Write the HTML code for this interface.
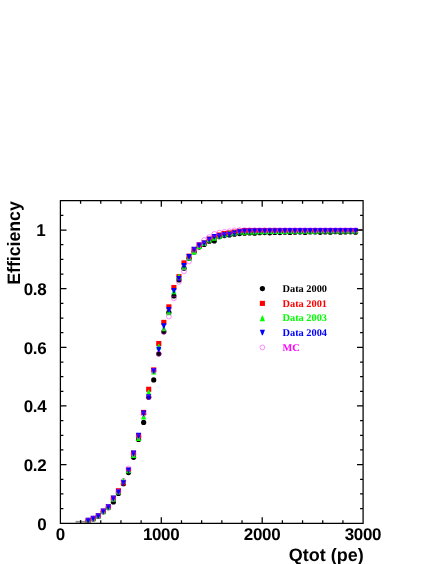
<!DOCTYPE html>
<html><head><meta charset="utf-8"><title>Efficiency vs Qtot</title>
<style>
html,body{margin:0;padding:0;background:#fff}
body{width:436px;height:564px;position:relative;overflow:hidden}
svg{display:block;will-change:transform}
text{text-rendering:geometricPrecision;font-variant-ligatures:none;font-weight:bold}
.tk{font-family:"Liberation Sans",sans-serif;font-size:17px;letter-spacing:-0.35px}
.ti{font-family:"Liberation Sans",sans-serif;font-size:18px}
.lg{font-family:"Liberation Serif",serif;font-size:10.35px}
</style></head><body>
<svg width="436" height="564" viewBox="0 0 436 564" style="position:absolute;left:0;top:0">
<path d="M75.6 521.35H86 M75.6 522.15H86" stroke="#000" stroke-width="0.4" fill="none"/><path d="M80.7 520.2V522.7" stroke="#000" stroke-width="0.7" fill="none"/>
<g fill="#000"><circle cx="88.15" cy="520.51" r="2.6"/><circle cx="93.19" cy="518.9" r="2.6"/><circle cx="98.24" cy="516.26" r="2.6"/><circle cx="103.28" cy="511.86" r="2.6"/><circle cx="108.33" cy="507.76" r="2.6"/><circle cx="113.37" cy="501.89" r="2.6"/><circle cx="118.42" cy="493.39" r="2.6"/><circle cx="123.46" cy="483.71" r="2.6"/><circle cx="128.51" cy="472.56" r="2.6"/><circle cx="133.55" cy="457.31" r="2.6"/><circle cx="138.6" cy="439.42" r="2.6"/><circle cx="143.64" cy="422.41" r="2.6"/><circle cx="148.69" cy="397.19" r="2.6"/><circle cx="153.73" cy="379.89" r="2.6"/><circle cx="158.78" cy="353.79" r="2.6"/><circle cx="163.82" cy="331.79" r="2.6"/><circle cx="168.87" cy="312.44" r="2.6"/><circle cx="173.91" cy="296.01" r="2.6"/><circle cx="178.96" cy="279.88" r="2.6"/><circle cx="184" cy="268.15" r="2.6"/><circle cx="189.05" cy="258.47" r="2.6"/><circle cx="194.09" cy="252.02" r="2.6"/><circle cx="199.14" cy="247.04" r="2.6"/><circle cx="204.18" cy="244.4" r="2.6"/><circle cx="209.23" cy="241.17" r="2.6"/><circle cx="214.27" cy="240.88" r="2.6"/><circle cx="219.32" cy="236.77" r="2.6"/><circle cx="224.36" cy="235.6" r="2.6"/><circle cx="229.41" cy="235.01" r="2.6"/><circle cx="234.45" cy="234.13" r="2.6"/><circle cx="239.5" cy="233.55" r="2.6"/><circle cx="244.54" cy="233.25" r="2.6"/><circle cx="249.59" cy="232.95" r="2.6"/><circle cx="254.63" cy="233.23" r="2.6"/><circle cx="259.68" cy="232.72" r="2.6"/><circle cx="264.72" cy="232.55" r="2.6"/><circle cx="269.77" cy="232.86" r="2.6"/><circle cx="274.81" cy="232.45" r="2.6"/><circle cx="279.86" cy="232.58" r="2.6"/><circle cx="284.9" cy="232.13" r="2.6"/><circle cx="289.95" cy="232.5" r="2.6"/><circle cx="294.99" cy="232.27" r="2.6"/><circle cx="300.04" cy="232.07" r="2.6"/><circle cx="305.08" cy="232.44" r="2.6"/><circle cx="310.13" cy="232.02" r="2.6"/><circle cx="315.17" cy="231.92" r="2.6"/><circle cx="320.22" cy="232.3" r="2.6"/><circle cx="325.26" cy="231.95" r="2.6"/><circle cx="330.31" cy="232.13" r="2.6"/><circle cx="335.35" cy="231.72" r="2.6"/><circle cx="340.4" cy="232.14" r="2.6"/><circle cx="345.44" cy="231.95" r="2.6"/><circle cx="350.49" cy="231.78" r="2.6"/><circle cx="355.53" cy="232.18" r="2.6"/></g>
<g fill="#f00"><rect x="85.6" y="517.96" width="5.1" height="5.1"/><rect x="90.64" y="516.06" width="5.1" height="5.1"/><rect x="95.69" y="513.42" width="5.1" height="5.1"/><rect x="100.73" y="508.73" width="5.1" height="5.1"/><rect x="105.78" y="504.33" width="5.1" height="5.1"/><rect x="110.82" y="495.82" width="5.1" height="5.1"/><rect x="115.87" y="488.2" width="5.1" height="5.1"/><rect x="120.91" y="480.28" width="5.1" height="5.1"/><rect x="125.96" y="467.67" width="5.1" height="5.1"/><rect x="131" y="450.66" width="5.1" height="5.1"/><rect x="136.05" y="433.06" width="5.1" height="5.1"/><rect x="141.09" y="409.89" width="5.1" height="5.1"/><rect x="146.14" y="386.72" width="5.1" height="5.1"/><rect x="151.18" y="367.37" width="5.1" height="5.1"/><rect x="156.23" y="340.97" width="5.1" height="5.1"/><rect x="161.27" y="319.86" width="5.1" height="5.1"/><rect x="166.32" y="304.31" width="5.1" height="5.1"/><rect x="171.36" y="284.96" width="5.1" height="5.1"/><rect x="176.41" y="274.11" width="5.1" height="5.1"/><rect x="181.45" y="260.32" width="5.1" height="5.1"/><rect x="186.5" y="253.58" width="5.1" height="5.1"/><rect x="191.54" y="247.13" width="5.1" height="5.1"/><rect x="196.59" y="242.43" width="5.1" height="5.1"/><rect x="201.63" y="240.38" width="5.1" height="5.1"/><rect x="206.68" y="236.57" width="5.1" height="5.1"/><rect x="211.72" y="234.22" width="5.1" height="5.1"/><rect x="216.77" y="232.46" width="5.1" height="5.1"/><rect x="221.81" y="231" width="5.1" height="5.1"/><rect x="226.86" y="230.41" width="5.1" height="5.1"/><rect x="231.9" y="229.53" width="5.1" height="5.1"/><rect x="236.95" y="228.65" width="5.1" height="5.1"/><rect x="241.99" y="228.06" width="5.1" height="5.1"/><rect x="247.04" y="228.06" width="5.1" height="5.1"/><rect x="252.08" y="228.06" width="5.1" height="5.1"/><rect x="257.13" y="228.06" width="5.1" height="5.1"/><rect x="262.17" y="228.06" width="5.1" height="5.1"/><rect x="267.22" y="228.06" width="5.1" height="5.1"/><rect x="272.26" y="228.06" width="5.1" height="5.1"/><rect x="277.31" y="228.06" width="5.1" height="5.1"/><rect x="282.35" y="228.06" width="5.1" height="5.1"/><rect x="287.4" y="228.06" width="5.1" height="5.1"/><rect x="292.44" y="228.06" width="5.1" height="5.1"/><rect x="297.49" y="228.06" width="5.1" height="5.1"/><rect x="302.53" y="228.06" width="5.1" height="5.1"/><rect x="307.58" y="228.06" width="5.1" height="5.1"/><rect x="312.62" y="228.06" width="5.1" height="5.1"/><rect x="317.67" y="228.06" width="5.1" height="5.1"/><rect x="322.71" y="228.06" width="5.1" height="5.1"/><rect x="327.76" y="228.06" width="5.1" height="5.1"/><rect x="332.8" y="228.06" width="5.1" height="5.1"/><rect x="337.85" y="228.06" width="5.1" height="5.1"/><rect x="342.89" y="228.06" width="5.1" height="5.1"/><rect x="347.94" y="228.06" width="5.1" height="5.1"/><rect x="352.98" y="228.06" width="5.1" height="5.1"/></g>
<g fill="#0f0"><path d="M85.55 523.26L90.75 523.26L88.6 517.76L87.7 517.76Z"/><path d="M90.59 521.36L95.79 521.36L93.64 515.86L92.74 515.86Z"/><path d="M95.64 518.72L100.84 518.72L98.69 513.22L97.79 513.22Z"/><path d="M100.68 514.32L105.88 514.32L103.73 508.82L102.83 508.82Z"/><path d="M105.73 509.92L110.93 509.92L108.78 504.42L107.88 504.42Z"/><path d="M110.77 501.71L115.97 501.71L113.82 496.21L112.92 496.21Z"/><path d="M115.82 494.38L121.02 494.38L118.87 488.88L117.97 488.88Z"/><path d="M120.86 483.53L126.06 483.53L123.91 478.03L123.01 478.03Z"/><path d="M125.91 473.26L131.11 473.26L128.96 467.76L128.06 467.76Z"/><path d="M130.95 458.01L136.15 458.01L134 452.51L133.1 452.51Z"/><path d="M136 441L141.2 441L139.05 435.5L138.15 435.5Z"/><path d="M141.04 419.59L146.24 419.59L144.09 414.09L143.19 414.09Z"/><path d="M146.09 395.25L151.29 395.25L149.14 389.75L148.24 389.75Z"/><path d="M151.13 374.43L156.33 374.43L154.18 368.93L153.28 368.93Z"/><path d="M156.18 349.5L161.38 349.5L159.23 344L158.33 344Z"/><path d="M161.22 331.32L166.42 331.32L164.27 325.82L163.37 325.82Z"/><path d="M166.27 315.19L171.47 315.19L169.32 309.69L168.42 309.69Z"/><path d="M171.31 294.36L176.51 294.36L174.36 288.86L173.46 288.86Z"/><path d="M176.36 279.41L181.56 279.41L179.41 273.91L178.51 273.91Z"/><path d="M181.4 270.02L186.6 270.02L184.45 264.52L183.55 264.52Z"/><path d="M186.45 260.64L191.65 260.64L189.5 255.14L188.6 255.14Z"/><path d="M191.49 254.48L196.69 254.48L194.54 248.98L193.64 248.98Z"/><path d="M196.54 248.91L201.74 248.91L199.59 243.41L198.69 243.41Z"/><path d="M201.58 245.97L206.78 245.97L204.63 240.47L203.73 240.47Z"/><path d="M206.63 242.46L211.83 242.46L209.68 236.96L208.78 236.96Z"/><path d="M211.67 240.7L216.87 240.7L214.72 235.2L213.82 235.2Z"/><path d="M216.72 238.64L221.92 238.64L219.77 233.14L218.87 233.14Z"/><path d="M221.76 237.18L226.96 237.18L224.81 231.68L223.91 231.68Z"/><path d="M226.81 236.3L232.01 236.3L229.86 230.8L228.96 230.8Z"/><path d="M231.85 235.42L237.05 235.42L234.9 229.92L234 229.92Z"/><path d="M236.9 234.54L242.1 234.54L239.95 229.04L239.05 229.04Z"/><path d="M241.94 234.68L247.14 234.68L244.99 229.18L244.09 229.18Z"/><path d="M246.99 234.54L252.19 234.54L250.04 229.04L249.14 229.04Z"/><path d="M252.03 234.42L257.23 234.42L255.08 228.92L254.18 228.92Z"/><path d="M257.08 234.31L262.28 234.31L260.13 228.81L259.23 228.81Z"/><path d="M262.12 234.21L267.32 234.21L265.17 228.71L264.27 228.71Z"/><path d="M267.17 234.12L272.37 234.12L270.22 228.62L269.32 228.62Z"/><path d="M272.21 234.04L277.41 234.04L275.26 228.54L274.36 228.54Z"/><path d="M277.26 233.97L282.46 233.97L280.31 228.47L279.41 228.47Z"/><path d="M282.3 233.91L287.5 233.91L285.35 228.41L284.45 228.41Z"/><path d="M287.35 233.85L292.55 233.85L290.4 228.35L289.5 228.35Z"/><path d="M292.39 233.8L297.59 233.8L295.44 228.3L294.54 228.3Z"/><path d="M297.44 233.75L302.64 233.75L300.49 228.25L299.59 228.25Z"/><path d="M302.48 233.71L307.68 233.71L305.53 228.21L304.63 228.21Z"/><path d="M307.53 233.68L312.73 233.68L310.58 228.18L309.68 228.18Z"/><path d="M312.57 233.64L317.77 233.64L315.62 228.14L314.72 228.14Z"/><path d="M317.62 233.61L322.82 233.61L320.67 228.11L319.77 228.11Z"/><path d="M322.66 233.59L327.86 233.59L325.71 228.09L324.81 228.09Z"/><path d="M327.71 233.56L332.91 233.56L330.76 228.06L329.86 228.06Z"/><path d="M332.75 233.54L337.95 233.54L335.8 228.04L334.9 228.04Z"/><path d="M337.8 233.52L343 233.52L340.85 228.02L339.95 228.02Z"/><path d="M342.84 233.51L348.04 233.51L345.89 228.01L344.99 228.01Z"/><path d="M347.89 233.49L353.09 233.49L350.94 227.99L350.04 227.99Z"/><path d="M352.93 233.48L358.13 233.48L355.98 227.98L355.08 227.98Z"/></g>
<g fill="#00f"><path d="M85.55 517.76L90.75 517.76L88.6 523.26L87.7 523.26Z"/><path d="M90.59 515.86L95.79 515.86L93.64 521.36L92.74 521.36Z"/><path d="M95.64 513.22L100.84 513.22L98.69 518.72L97.79 518.72Z"/><path d="M100.68 508.53L105.88 508.53L103.73 514.03L102.83 514.03Z"/><path d="M105.73 504.13L110.93 504.13L108.78 509.63L107.88 509.63Z"/><path d="M110.77 495.62L115.97 495.62L113.82 501.12L112.92 501.12Z"/><path d="M115.82 489.17L121.02 489.17L118.87 494.67L117.97 494.67Z"/><path d="M120.86 480.37L126.06 480.37L123.91 485.87L123.01 485.87Z"/><path d="M125.91 467.47L131.11 467.47L128.96 472.97L128.06 472.97Z"/><path d="M130.95 450.46L136.15 450.46L134 455.96L133.1 455.96Z"/><path d="M136 432.86L141.2 432.86L139.05 438.36L138.15 438.36Z"/><path d="M141.04 410.57L146.24 410.57L144.09 416.07L143.19 416.07Z"/><path d="M146.09 394.15L151.29 394.15L149.14 399.65L148.24 399.65Z"/><path d="M151.13 368.05L156.33 368.05L154.18 373.55L153.28 373.55Z"/><path d="M156.18 346.64L161.38 346.64L159.23 352.14L158.33 352.14Z"/><path d="M161.22 323.18L166.42 323.18L164.27 328.68L163.37 328.68Z"/><path d="M166.27 307.05L171.47 307.05L169.32 312.55L168.42 312.55Z"/><path d="M171.31 287.98L176.51 287.98L174.36 293.48L173.46 293.48Z"/><path d="M176.36 275.96L181.56 275.96L179.41 281.46L178.51 281.46Z"/><path d="M181.4 263.06L186.6 263.06L184.45 268.56L183.55 268.56Z"/><path d="M186.45 253.97L191.65 253.97L189.5 259.47L188.6 259.47Z"/><path d="M191.49 246.63L196.69 246.63L194.54 252.13L193.64 252.13Z"/><path d="M196.54 242.53L201.74 242.53L199.59 248.03L198.69 248.03Z"/><path d="M201.58 240.47L206.78 240.47L204.63 245.97L203.73 245.97Z"/><path d="M206.63 236.66L211.83 236.66L209.68 242.16L208.78 242.16Z"/><path d="M211.67 234.02L216.87 234.02L214.72 239.52L213.82 239.52Z"/><path d="M216.72 233.14L221.92 233.14L219.77 238.64L218.87 238.64Z"/><path d="M221.76 232.26L226.96 232.26L224.81 237.76L223.91 237.76Z"/><path d="M226.81 231.68L232.01 231.68L229.86 237.18L228.96 237.18Z"/><path d="M231.85 230.5L237.05 230.5L234.9 236L234 236Z"/><path d="M236.9 229.33L242.1 229.33L239.95 234.83L239.05 234.83Z"/><path d="M241.94 228.45L247.14 228.45L244.99 233.95L244.09 233.95Z"/><path d="M246.99 228.39L252.19 228.39L250.04 233.89L249.14 233.89Z"/><path d="M252.03 228.33L257.23 228.33L255.08 233.83L254.18 233.83Z"/><path d="M257.08 228.28L262.28 228.28L260.13 233.78L259.23 233.78Z"/><path d="M262.12 228.24L267.32 228.24L265.17 233.74L264.27 233.74Z"/><path d="M267.17 228.2L272.37 228.2L270.22 233.7L269.32 233.7Z"/><path d="M272.21 228.16L277.41 228.16L275.26 233.66L274.36 233.66Z"/><path d="M277.26 228.13L282.46 228.13L280.31 233.63L279.41 233.63Z"/><path d="M282.3 228.1L287.5 228.1L285.35 233.6L284.45 233.6Z"/><path d="M287.35 228.08L292.55 228.08L290.4 233.58L289.5 233.58Z"/><path d="M292.39 228.06L297.59 228.06L295.44 233.56L294.54 233.56Z"/><path d="M297.44 228.04L302.64 228.04L300.49 233.54L299.59 233.54Z"/><path d="M302.48 228.02L307.68 228.02L305.53 233.52L304.63 233.52Z"/><path d="M307.53 228L312.73 228L310.58 233.5L309.68 233.5Z"/><path d="M312.57 227.99L317.77 227.99L315.62 233.49L314.72 233.49Z"/><path d="M317.62 227.97L322.82 227.97L320.67 233.47L319.77 233.47Z"/><path d="M322.66 227.96L327.86 227.96L325.71 233.46L324.81 233.46Z"/><path d="M327.71 227.95L332.91 227.95L330.76 233.45L329.86 233.45Z"/><path d="M332.75 227.94L337.95 227.94L335.8 233.44L334.9 233.44Z"/><path d="M337.8 227.93L343 227.93L340.85 233.43L339.95 233.43Z"/><path d="M342.84 227.93L348.04 227.93L345.89 233.43L344.99 233.43Z"/><path d="M347.89 227.92L353.09 227.92L350.94 233.42L350.04 233.42Z"/><path d="M352.93 227.91L358.13 227.91L355.98 233.41L355.08 233.41Z"/></g>
<g fill="none" stroke="#f0f" stroke-width="0.45"><circle cx="88.15" cy="520.51" r="2.4"/><circle cx="93.19" cy="518.61" r="2.4"/><circle cx="98.24" cy="515.97" r="2.4"/><circle cx="103.28" cy="511.57" r="2.4"/><circle cx="108.33" cy="507.17" r="2.4"/><circle cx="113.37" cy="498.96" r="2.4"/><circle cx="118.42" cy="491.63" r="2.4"/><circle cx="123.46" cy="480.78" r="2.4"/><circle cx="128.51" cy="468.46" r="2.4"/><circle cx="133.55" cy="454.09" r="2.4"/><circle cx="138.6" cy="436.78" r="2.4"/><circle cx="143.64" cy="414.2" r="2.4"/><circle cx="148.69" cy="397.19" r="2.4"/><circle cx="153.73" cy="370.8" r="2.4"/><circle cx="158.78" cy="353.79" r="2.4"/><circle cx="163.82" cy="331.79" r="2.4"/><circle cx="168.87" cy="316.54" r="2.4"/><circle cx="173.91" cy="298.36" r="2.4"/><circle cx="178.96" cy="281.94" r="2.4"/><circle cx="184" cy="271.38" r="2.4"/><circle cx="189.05" cy="261.41" r="2.4"/><circle cx="194.09" cy="249.97" r="2.4"/><circle cx="199.14" cy="244.69" r="2.4"/><circle cx="204.18" cy="240" r="2.4"/><circle cx="209.23" cy="237.07" r="2.4"/><circle cx="214.27" cy="233.84" r="2.4"/><circle cx="219.32" cy="232.67" r="2.4"/><circle cx="224.36" cy="231.79" r="2.4"/><circle cx="229.41" cy="231.2" r="2.4"/><circle cx="234.45" cy="230.32" r="2.4"/><circle cx="239.5" cy="230.03" r="2.4"/><circle cx="244.54" cy="230.03" r="2.4"/><circle cx="249.59" cy="230.03" r="2.4"/><circle cx="254.63" cy="230.03" r="2.4"/><circle cx="259.68" cy="230.03" r="2.4"/><circle cx="264.72" cy="230.03" r="2.4"/><circle cx="269.77" cy="230.03" r="2.4"/><circle cx="274.81" cy="230.03" r="2.4"/><circle cx="279.86" cy="230.03" r="2.4"/><circle cx="284.9" cy="230.03" r="2.4"/><circle cx="289.95" cy="230.03" r="2.4"/><circle cx="294.99" cy="230.03" r="2.4"/><circle cx="300.04" cy="230.03" r="2.4"/><circle cx="305.08" cy="230.03" r="2.4"/><circle cx="310.13" cy="230.03" r="2.4"/><circle cx="315.17" cy="230.03" r="2.4"/><circle cx="320.22" cy="230.03" r="2.4"/><circle cx="325.26" cy="230.03" r="2.4"/><circle cx="330.31" cy="230.03" r="2.4"/><circle cx="335.35" cy="230.03" r="2.4"/><circle cx="340.4" cy="230.03" r="2.4"/><circle cx="345.44" cy="230.03" r="2.4"/><circle cx="350.49" cy="230.03" r="2.4"/><circle cx="355.53" cy="230.03" r="2.4"/></g>
<path d="M60.4 200.7H363.1V523.3H60.4ZM80.58 523.3v-3M80.58 200.7v3M100.76 523.3v-3M100.76 200.7v3M120.94 523.3v-3M120.94 200.7v3M141.12 523.3v-3M141.12 200.7v3M161.3 523.3v-6.1M161.3 200.7v6.1M181.48 523.3v-3M181.48 200.7v3M201.66 523.3v-3M201.66 200.7v3M221.84 523.3v-3M221.84 200.7v3M242.02 523.3v-3M242.02 200.7v3M262.2 523.3v-6.1M262.2 200.7v6.1M282.38 523.3v-3M282.38 200.7v3M302.56 523.3v-3M302.56 200.7v3M322.74 523.3v-3M322.74 200.7v3M342.92 523.3v-3M342.92 200.7v3M60.4 508.64h3M363.1 508.64h-3M60.4 493.97h3M363.1 493.97h-3M60.4 479.31h3M363.1 479.31h-3M60.4 464.65h6.1M363.1 464.65h-6.1M60.4 449.98h3M363.1 449.98h-3M60.4 435.32h3M363.1 435.32h-3M60.4 420.65h3M363.1 420.65h-3M60.4 405.99h6.1M363.1 405.99h-6.1M60.4 391.33h3M363.1 391.33h-3M60.4 376.66h3M363.1 376.66h-3M60.4 362h3M363.1 362h-3M60.4 347.34h6.1M363.1 347.34h-6.1M60.4 332.67h3M363.1 332.67h-3M60.4 318.01h3M363.1 318.01h-3M60.4 303.35h3M363.1 303.35h-3M60.4 288.68h6.1M363.1 288.68h-6.1M60.4 274.02h3M363.1 274.02h-3M60.4 259.35h3M363.1 259.35h-3M60.4 244.69h3M363.1 244.69h-3M60.4 230.03h6.1M363.1 230.03h-6.1M60.4 215.36h3M363.1 215.36h-3" fill="none" stroke="#000" stroke-width="1.25" stroke-linejoin="miter"/>
<path d="M358.4 230H362.7" stroke="#2a2a2a" stroke-width="2" fill="none"/>
<circle cx="262.4" cy="288.6" r="2.6" fill="#000"/>
<rect x="259.85" y="300.85" width="5.1" height="5.1" fill="#f00"/>
<path d="M259.8 321.15L265 321.15L262.85 315.65L261.95 315.65Z" fill="#0f0"/>
<path d="M259.8 329.75L265 329.75L262.85 335.25L261.95 335.25Z" fill="#00f"/>
<circle cx="262.4" cy="347.4" r="2.4" fill="none" stroke="#f0f" stroke-width="0.45"/>
<text class="tk" x="60.23" y="540.1" text-anchor="middle">0</text>
<text class="tk" x="161.13" y="540.1" text-anchor="middle">1000</text>
<text class="tk" x="262.03" y="540.1" text-anchor="middle">2000</text>
<text class="tk" x="362.93" y="540.1" text-anchor="middle">3000</text>
<text class="tk" x="46.35" y="529.5" text-anchor="end">0</text>
<text class="tk" x="46.35" y="470.85" text-anchor="end">0.2</text>
<text class="tk" x="46.35" y="412.19" text-anchor="end">0.4</text>
<text class="tk" x="46.35" y="353.54" text-anchor="end">0.6</text>
<text class="tk" x="46.35" y="294.88" text-anchor="end">0.8</text>
<text class="tk" x="45.4" y="236.23" text-anchor="end">1</text>
<text class="ti" x="363.8" y="560.8" text-anchor="end">Qtot (pe)</text>
<text class="ti" transform="translate(20,201.2) rotate(-90) scale(0.983,1)" x="0" y="0" text-anchor="end">Efficiency</text>
<text class="lg" x="282.5" y="291.9" fill="#000">Data 2000</text>
<text class="lg" x="282.5" y="306.6" fill="#f00">Data 2001</text>
<text class="lg" x="282.5" y="321.25" fill="#0f0">Data 2003</text>
<text class="lg" x="282.5" y="335.85" fill="#00f">Data 2004</text>
<text class="lg" x="282.5" y="350.7" fill="#f0f">MC</text>
</svg>
</body></html>
